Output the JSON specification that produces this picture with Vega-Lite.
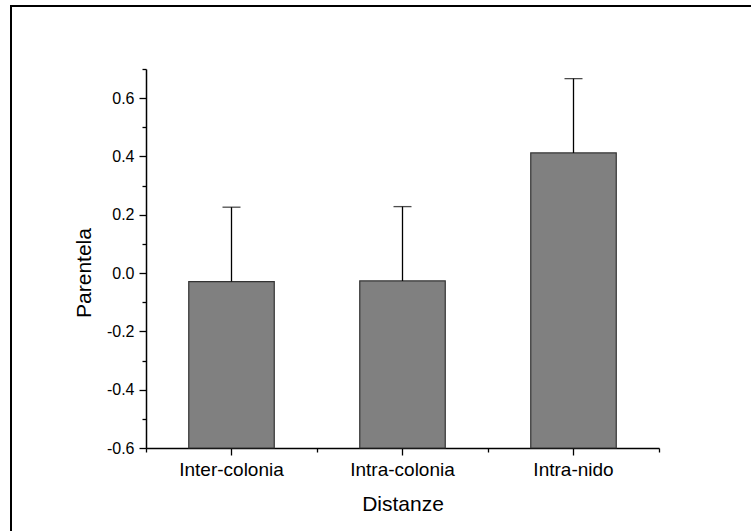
{
  "$schema": "https://vega.github.io/schema/vega-lite/v6.json",
  "autosize": "none",
  "padding": {"left": 11, "top": 6, "right": -60, "bottom": -60},
  "width": 800,
  "height": 585,
  "background": "white",
  "config": {
    "view": {"stroke": "black", "strokeWidth": 2},
    "font": "Liberation Sans",
    "axis": {
      "domainColor": "black",
      "domainWidth": 1.5,
      "tickColor": "black",
      "tickWidth": 1.3,
      "labelColor": "black",
      "titleColor": "black",
      "grid": false,
      "labelFont": "Liberation Sans",
      "titleFont": "Liberation Sans",
      "titleFontWeight": "normal"
    }
  },
  "data": {
    "values": [
      {"Distanze": "Inter-colonia", "Parentela": -0.029, "upper": 0.226},
      {"Distanze": "Intra-colonia", "Parentela": -0.027, "upper": 0.228},
      {"Distanze": "Intra-nido", "Parentela": 0.412, "upper": 0.667}
    ]
  },
  "resolve": {"axis": {"x": "independent", "y": "independent"}},
  "layer": [
    {
      "mark": {"type": "bar", "width": {"band": 0.5}, "fill": "#808080", "stroke": "#333333", "strokeWidth": 1.2},
      "encoding": {
        "x": {
          "field": "Distanze", "type": "nominal", "sort": null,
          "scale": {"paddingInner": 0, "paddingOuter": 0, "range": [135, 648]},
          "axis": {
            "orient": "bottom", "offset": -143, "title": "Distanze", "labelAngle": 0,
            "labelFontSize": 19, "titleFontSize": 21, "tickSize": 7,
            "labelPadding": 5, "titlePadding": 14, "bandPosition": 0.5
          }
        },
        "y": {
          "field": "Parentela", "type": "quantitative",
          "scale": {"domain": [-0.6, 0.7], "nice": false, "zero": false, "range": [442, 63]},
          "axis": {
            "orient": "left", "offset": -135, "title": "Parentela",
            "values": [-0.6, -0.4, -0.2, 0, 0.2, 0.4, 0.6],
            "labelExpr": "replace(format(datum.value, '.1f'), '\u2212', '-')",
            "labelFontSize": 16, "titleFontSize": 21,
            "tickSize": 7, "labelPadding": 5, "titlePadding": 12, "titleY": 266.5
          }
        },
        "y2": {"datum": -0.6}
      }
    },
    {
      "mark": {"type": "rule", "color": "black", "strokeWidth": 1.3},
      "encoding": {
        "x": {
          "field": "Distanze", "type": "nominal", "sort": null,
          "axis": {"orient": "bottom", "offset": -143, "labels": false, "title": null, "domain": false, "tickBand": "extent", "tickSize": 4}
        },
        "y": {
          "field": "Parentela", "type": "quantitative",
          "axis": {"orient": "left", "offset": -135, "labels": false, "title": null, "domain": false, "tickSize": 4,
                   "values": [-0.5, -0.3, -0.1, 0.1, 0.3, 0.5, 0.7]}
        },
        "y2": {"field": "upper"}
      }
    },
    {
      "mark": {"type": "tick", "color": "black", "size": 18, "thickness": 1.3},
      "encoding": {
        "x": {"field": "Distanze", "type": "nominal", "sort": null, "axis": null},
        "y": {"field": "upper", "type": "quantitative", "axis": null}
      }
    }
  ]
}
